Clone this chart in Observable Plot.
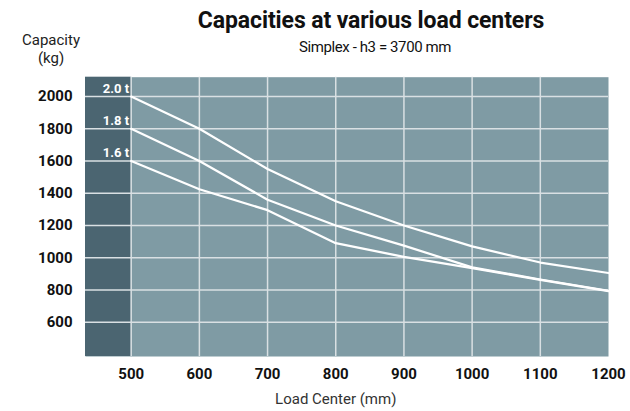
<!DOCTYPE html>
<html>
<head>
<meta charset="utf-8">
<script src="https://cdn.jsdelivr.net/npm/d3@7"></script>
<script src="https://cdn.jsdelivr.net/npm/@observablehq/plot@0.6"></script>
<style>
  html, body { margin: 0; padding: 0; background: #fff; }
  #wrap { position: relative; width: 630px; height: 411px; font-family: Roboto, "Noto Sans", sans-serif; color: #111; }
  #header { position: relative; width: 630px; height: 66px; }
  .t { position: absolute; white-space: nowrap; line-height: normal; }
  #title { left: 0; width: 742px; text-align: center; top: 7px; font-size: 23px; font-weight: 700; letter-spacing: -0.1px; }
  #subtitle { left: 0; width: 750px; text-align: center; top: 38px; font-size: 15px; letter-spacing: -0.4px; }
  .ylab { left: 0; width: 102px; text-align: center; font-size: 15px; color: #222; }
  #ylab1 { top: 31px; }
  #ylab2 { top: 49px; }
</style>
</head>
<body>
<div id="wrap">
  <div id="header">
    <div class="t" id="title">Capacities at various load centers</div>
    <div class="t" id="subtitle">Simplex - h3 = 3700 mm</div>
    <div class="t ylab" id="ylab1">Capacity</div>
    <div class="t ylab" id="ylab2">(kg)</div>
  </div>
  <div id="chart"></div>
</div>
<script>
// Data
const loadCenters = [500, 600, 700, 800, 900, 1000, 1100, 1200];
const cap20 = [2000, 1800, 1550, 1350, 1200, 1070, 970, 905];
const cap18 = [1800, 1600, 1360, 1200, 1075, 940, 865, 795];
const cap16 = [1600, 1425, 1295, 1090, 1005, 935, 862, 793];
const seriesNames = ["2.0 t", "1.8 t", "1.6 t"];
const xTicks = [500, 600, 700, 800, 900, 1000, 1100, 1200];
const yTicks = [600, 800, 1000, 1200, 1400, 1600, 1800, 2000];
const xDomain = [433, 1200];
const yDomain = [387, 2120];
const bandX = [433, 500];
const xLabel = "Load Center (mm)";
const xLabelAt = 800;

const seriesValues = [cap20, cap18, cap16];
const rows = [];
seriesValues.forEach((vals, i) => {
  vals.forEach((v, j) => rows.push({ series: seriesNames[i], x: loadCenters[j], y: v }));
});
const startLabels = seriesNames.map((s, i) => ({ series: s, x: loadCenters[0], y: seriesValues[i][0] }));

const dark = "#4b6571";
const light = "#7f9ba4";
const gridColor = "#d9e0e3";

const chart = Plot.plot({
  width: 630,
  height: 345,
  marginTop: 10.7,
  marginBottom: 55,
  marginLeft: 85,
  marginRight: 22,
  style: { fontFamily: "Roboto, 'Noto Sans', sans-serif", background: "transparent" },
  x: { domain: xDomain, ticks: xTicks },
  y: { domain: yDomain, ticks: yTicks },
  marks: [
    Plot.frame({ fill: light, stroke: null }),
    Plot.rect([bandX], { x1: d => d[0], x2: d => d[1], y1: yDomain[0], y2: yDomain[1], fill: dark }),
    Plot.gridX(xTicks.filter(t => t < xDomain[1]), { stroke: gridColor, strokeOpacity: 1, strokeWidth: 1.5 }),
    Plot.gridY(yTicks, { stroke: gridColor, strokeOpacity: 1, strokeWidth: 1.5 }),
    Plot.line(rows, { x: "x", y: "y", z: "series", stroke: "#ffffff", strokeWidth: 2.2 }),
    Plot.text(startLabels, { x: "x", y: "y", text: "series", textAnchor: "end", dx: -2, dy: -8, fill: "#ffffff", fontWeight: 700, fontSize: 13 }),
    Plot.axisX(xTicks, { tickSize: 0, tickPadding: 12, fontSize: 15, fontWeight: 700, fill: "#111", label: null, tickFormat: d => String(d) }),
    Plot.axisY(yTicks, { tickSize: 0, tickPadding: 13, fontSize: 15, fontWeight: 700, fill: "#111", label: null, tickFormat: d => String(d) }),
    Plot.text([xLabel], { x: xLabelAt, frameAnchor: "bottom", dy: 47, text: d => d, fontSize: 15, fill: "#333" })
  ]
});
document.getElementById("chart").appendChild(chart);
</script>
</body>
</html>
